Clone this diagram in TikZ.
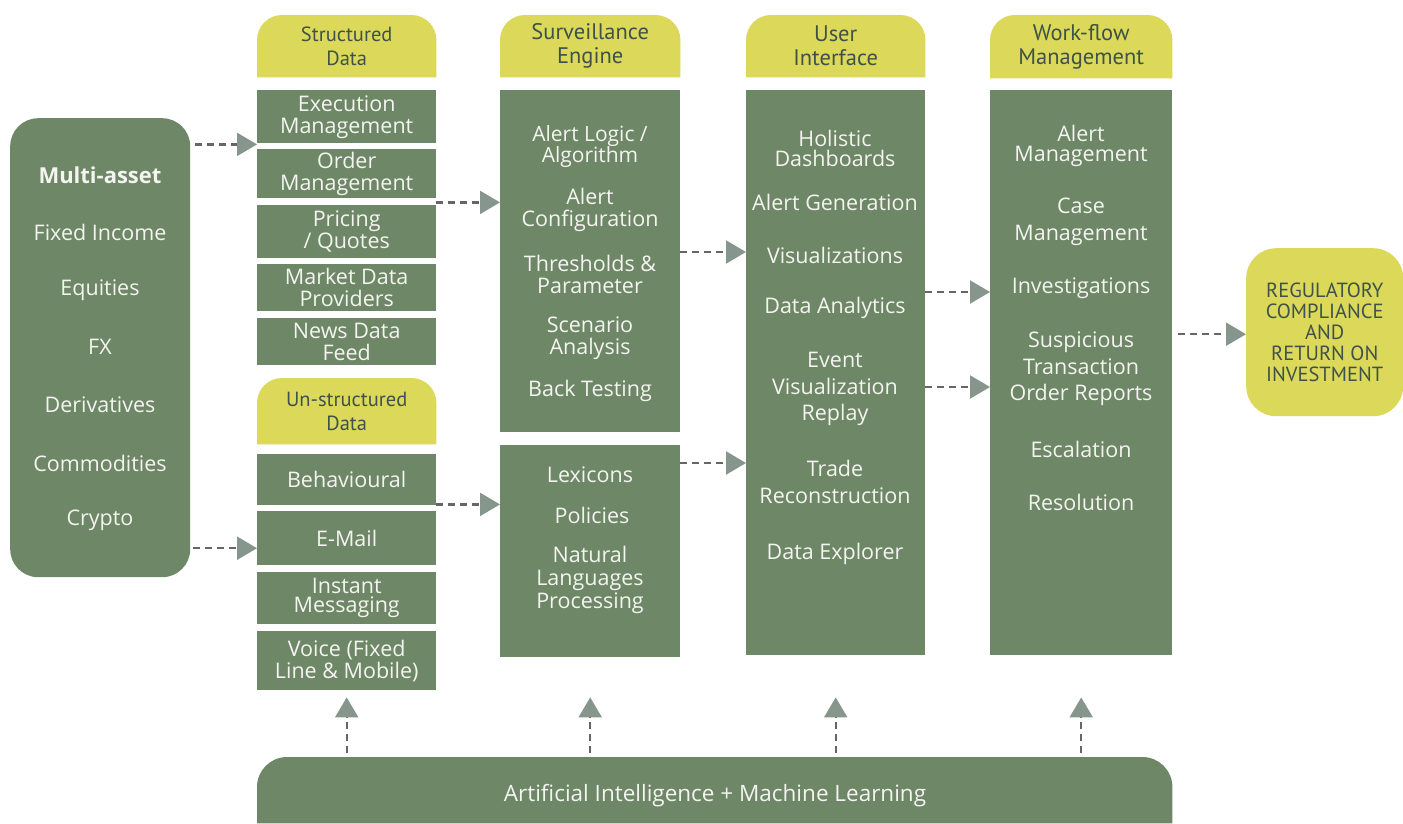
\documentclass[tikz,border=0pt]{standalone}
\usepackage{fontspec}
\setmainfont{Open Sans}
\newfontfamily\hfont{PT Sans}
\usetikzlibrary{arrows.meta,calc}
\definecolor{gr}{HTML}{6E8767}
\definecolor{yl}{HTML}{DCD85A}
\definecolor{tipg}{HTML}{87968C}
\definecolor{dashg}{HTML}{666666}
\definecolor{htxt}{HTML}{3F5249}
\definecolor{wtxt}{HTML}{F4F4F0}
\pgfdeclarelayer{bg}
\pgfsetlayers{bg,main}
\begin{document}
\begin{tikzpicture}[x=1pt,y=-1pt,
  gbox/.style={fill=gr, inner sep=0pt, anchor=north west},
  t/.style={text=wtxt, align=center, inner sep=0pt, font=\fontsize{21.5}{22}\selectfont},
  hdr/.style={inner sep=0pt, anchor=north west, text=htxt, align=center, font=\hfont\fontsize{22.5}{24}\selectfont},
  arr/.style={draw=dashg, line width=2.2pt, dash pattern=on 7pt off 5pt,
    -{Triangle[length=20pt,width=23pt,color=tipg]}}]
\useasboundingbox (0,0) rectangle (1403,823);
\begin{pgfonlayer}{bg}
\fill[white] (0,0) rectangle (1403,823);
\end{pgfonlayer}

% left asset box
\node[gbox, rounded corners=28pt, minimum width=180pt, minimum height=459pt] (assets) at (10,118) {};
\node[t, font=\bfseries\fontsize{22}{22}\selectfont] (a1) at (100,175) {Multi-asset};
\node[t] (a2) at (100,232) {Fixed Income};
\node[t] (a3) at (100,290) {Equities};
\node[t] (a4) at (100,347) {FX};
\node[t] (a5) at (100,405) {Derivatives};
\node[t] (a6) at (100,463) {Commodities};
\node[t] (a7) at (100,520) {Crypto};

% headers
\node[hdr, minimum width=179pt, minimum height=62pt, font=\hfont\fontsize{20.5}{24}\selectfont] (h1) at (257,15) {Structured\\Data};
\node[hdr, minimum width=179pt, minimum height=66pt, font=\hfont\fontsize{20.5}{24}\selectfont] (h2) at (257,378) {Un-structured\\Data};
\node[hdr, minimum width=180pt, minimum height=62pt] (h3) at (500,15) {Surveillance\\Engine};
\node[hdr, minimum width=179pt, minimum height=62pt] (h4) at (746,15) {User\\Interface};
\node[hdr, minimum width=182pt, minimum height=63pt] (h5) at (990,15) {Work-flow\\Management};
\begin{pgfonlayer}{bg}
\foreach \h in {h1,h2,h3,h4,h5}{
  \fill[yl] (\h.south west) [rounded corners=25pt] -- (\h.north west) -- (\h.north east) [sharp corners] -- (\h.south east) -- cycle;
}
\end{pgfonlayer}

% column 1 boxes
\node[gbox, t, minimum width=179pt, minimum height=53pt] (exe) at (257,90) {Execution\\Management};
\node[gbox, t, minimum width=179pt, minimum height=49pt] (ord) at (257,149) {Order\\Management};
\node[gbox, t, minimum width=179pt, minimum height=53pt] (pri) at (257,205) {Pricing\\/ Quotes};
\node[gbox, t, minimum width=179pt, minimum height=47pt] (mkt) at (257,264) {Market Data\\Providers};
\node[gbox, t, minimum width=179pt, minimum height=47pt] (news) at (257,318) {News Data\\Feed};
\node[gbox, t, minimum width=179pt, minimum height=51pt] (beh) at (257,454) {Behavioural};
\node[gbox, t, minimum width=179pt, minimum height=54pt] (email) at (257,511) {E-Mail};
\node[gbox, t, minimum width=179pt, minimum height=52pt, font=\fontsize{21.5}{19}\selectfont] (im) at (257,572) {Instant\\Messaging};
\node[gbox, t, minimum width=179pt, minimum height=59pt] (voice) at (257,631) {Voice (Fixed\\Line \& Mobile)};

% column 2
\node[gbox, minimum width=180pt, minimum height=342pt] (survbox) at (500,90) {};
\node[gbox, minimum width=180pt, minimum height=212pt] (lowbox) at (500,445) {};
\node[t, font=\fontsize{21}{21}\selectfont] (s1) at (590,147) {Alert Logic /\\Algorithm};
\node[t] (s2) at (590,210) {Alert\\Configuration};
\node[t] (s3) at (590,274) {Thresholds \&\\Parameter};
\node[t] (s4) at (590,338) {Scenario\\Analysis};
\node[t] (s5) at (590,391) {Back Testing};
\node[t] (l1) at (590,475) {Lexicons};
\node[t] (l2) at (592,515) {Policies};
\node[t, font=\fontsize{21.5}{23}\selectfont] (l3) at (590,580) {Natural\\Languages\\Processing};

% column 3
\node[gbox, minimum width=179pt, minimum height=565pt] (uibox) at (746,90) {};
\node[t, font=\fontsize{21.5}{20}\selectfont] (u1) at (835,148) {Holistic\\Dashboards};
\node[t] (u2) at (835,202) {Alert Generation};
\node[t] (u3) at (835,255) {Visualizations};
\node[t] (u4) at (835,308) {Data Analytics};
\node[t, font=\fontsize{21.5}{26.5}\selectfont] (u5) at (835,389) {Event\\Visualization\\Replay};
\node[t, font=\fontsize{21.5}{27}\selectfont] (u6) at (835,482) {Trade\\Reconstruction};
\node[t] (u7) at (835,554) {Data Explorer};

% column 4
\node[gbox, minimum width=182pt, minimum height=565pt] (wfbox) at (990,90) {};
\node[t, font=\fontsize{21.5}{20}\selectfont] (w1) at (1081,146) {Alert\\Management};
\node[t, font=\fontsize{21.5}{27}\selectfont] (w2) at (1081,222) {Case\\Management};
\node[t] (w3) at (1081,288) {Investigations};
\node[t, font=\fontsize{21.5}{26.5}\selectfont] (w4) at (1081,369) {Suspicious\\Transaction\\Order Reports};
\node[t] (w5) at (1081,449) {Escalation};
\node[t] (w6) at (1081,502) {Resolution};

% result
\node[fill=yl, rounded corners=30pt, minimum width=157pt, minimum height=168pt, anchor=north west, inner sep=0pt,
  text=htxt, align=center, font=\hfont\fontsize{20.5}{21}\selectfont] (reg) at (1246,248)
  {REGULATORY\\COMPLIANCE\\AND\\RETURN ON\\INVESTMENT};

% AI bar
\node[inner sep=0pt, anchor=north west, minimum width=915pt, minimum height=66pt] (aibar) at (257,757) {};
\begin{pgfonlayer}{bg}
\fill[gr] (aibar.south west) [rounded corners=30pt] -- (aibar.north west) -- (aibar.north east) [sharp corners] -- (aibar.south east) -- cycle;
\end{pgfonlayer}
\node[t, font=\fontsize{22.5}{22}\selectfont] (ai) at (715,796) {Artificial Intelligence + Machine Learning};

% connectors
\coordinate (eA) at ($(exe.south west)+(0,1)$);
\draw[arr, shorten <=5pt] (assets.east |- eA) -- (eA);
\coordinate (mA) at ($(email.west)+(0,10)$);
\draw[arr, shorten <=3pt] (assets.east |- mA) -- (mA);
\coordinate (oA) at ($(ord.south east)+(0,4)$);
\draw[arr] (oA) -- (survbox.west |- oA);
\coordinate (bA) at ($(beh.south east)+(0,-1)$);
\draw[arr] (bA) -- (lowbox.west |- bA);
\coordinate (sA) at ($(survbox.north east)+(0,162)$);
\draw[arr] (sA) -- (uibox.west |- sA);
\coordinate (lA) at ($(lowbox.north east)+(0,18)$);
\draw[arr] (lA) -- (uibox.west |- lA);
\coordinate (uA) at ($(uibox.north east)+(0,202)$);
\draw[arr] (uA) -- (wfbox.west |- uA);
\coordinate (uB) at ($(uibox.north east)+(0,297)$);
\draw[arr] (uB) -- (wfbox.west |- uB);
\coordinate (wA) at ($(wfbox.east |- reg.west)+(0,2)$);
\draw[arr, shorten <=6pt] (wA) -- (reg.west |- wA);

\coordinate (up1) at ($(voice.south)+(0,7)$);
\draw[arr, shorten <=4pt] (aibar.north -| voice.south) -- (up1);
\draw[arr, shorten <=4pt] (aibar.north -| lowbox.south) -- (lowbox.south |- up1);
\draw[arr, shorten <=4pt] (aibar.north -| uibox.south) -- (uibox.south |- up1);
\draw[arr, shorten <=4pt] (aibar.north -| wfbox.south) -- (wfbox.south |- up1);
\end{tikzpicture}
\end{document}
